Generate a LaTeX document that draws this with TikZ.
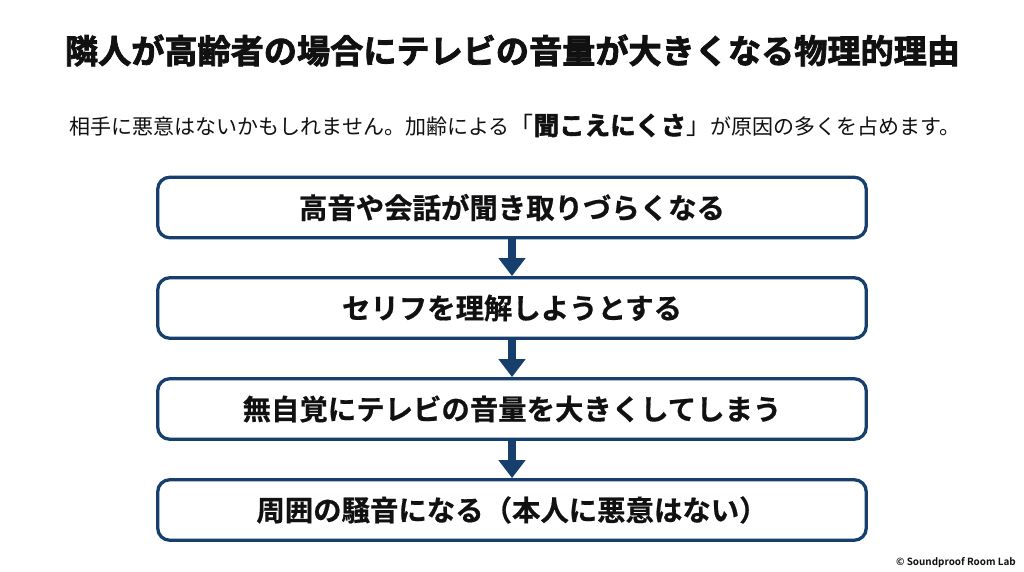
\documentclass[tikz,border=0pt]{standalone}
\usepackage{fontspec}
\usetikzlibrary{arrows.meta}
\setmainfont{Noto Sans CJK JP}
\newfontfamily\jpbold[FakeBold=0.6]{Noto Sans CJK JP Bold}
\newfontfamily\jpblack[FakeBold=2.4]{Noto Sans CJK JP Bold}
\newfontfamily\jpmain{Noto Sans CJK JP}
\newfontfamily\lat{Noto Sans CJK JP Bold}
\definecolor{navy}{HTML}{163F6E}
\definecolor{ink}{HTML}{111111}
\tikzset{
  x=1pt,y=-1pt,
  stepbox/.style={draw=navy,line width=3.3pt,rounded corners=12pt,fill=white,minimum width=708.5pt,minimum height=60.5pt,inner sep=0pt,text=ink,font=\jpbold\fontsize{28.4}{30}\selectfont},
  flow/.style={draw=navy,line width=8.5pt,-{Triangle[width=26pt,length=18pt,fill=navy]},shorten >=0pt,shorten <=0pt},
  plain/.style={inner sep=0pt,text=ink}
}
\begin{document}
\begin{tikzpicture}
\useasboundingbox (0,0) rectangle (1024,572);
\fill[white] (0,0) rectangle (1024,572);
\node[plain,font=\jpblack\fontsize{33.15}{36}\selectfont] (title) at (512.5,50.5) {隣人が高齢者の場合にテレビの音量が大きくなる物理的理由};
\node[plain] (sub) at (515,125.5) {\jpmain\fontsize{21}{26}\selectfont 相手に悪意はないかもしれません。加齢による{\fontsize{24}{26}\selectfont「}{\jpblack\fontsize{25.5}{26}\selectfont 聞こえにくさ}{\fontsize{24}{26}\selectfont」}が原因の多くを占めます。};
\node[stepbox] (a) at (512,207.5) {高音や会話が聞き取りづらくなる};
\node[stepbox] (b) at (512,308) {セリフを理解しようとする};
\node[stepbox] (c) at (512,409) {無自覚にテレビの音量を大きくしてしまう};
\node[stepbox] (d) at (512,510) {周囲の騒音になる（本人に悪意はない）};
\draw[flow] (a) -- (b);
\draw[flow] (b) -- (c);
\draw[flow] (c) -- (d);
\node[plain,anchor=east,font=\lat\fontsize{9.9}{12}\selectfont] (cr) at (1016,563) {© Soundproof Room Lab};
\end{tikzpicture}
\end{document}
